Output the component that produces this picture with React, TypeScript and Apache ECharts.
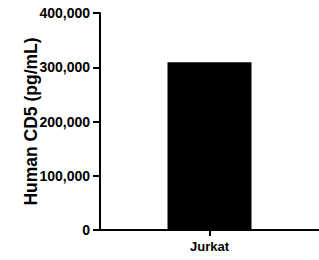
import React, { useEffect, useRef } from "react";
import * as echarts from "echarts";

const categories = ["Jurkat"];
const values = [309000];
const yTicks = [0, 100000, 200000, 300000, 400000];

export default function App() {
  const ref = useRef<HTMLDivElement>(null);
  useEffect(() => {
    if (!ref.current) return;
    const chart = echarts.init(ref.current, null, { renderer: "svg" });
    const font = "Liberation Sans, Arial, sans-serif";
    chart.setOption({
      animation: false,
      backgroundColor: "#ffffff",
      grid: { left: 100, right: 0, top: 13, bottom: 30 },
      xAxis: {
        type: "category",
        data: categories,
        axisLine: { show: true, lineStyle: { color: "#000", width: 2 } },
        axisTick: { show: true, alignWithLabel: true, length: 6, lineStyle: { color: "#000", width: 2 } },
        axisLabel: { color: "#000", fontWeight: "bold", fontSize: 13, fontFamily: font, margin: 10 },
      },
      yAxis: {
        type: "value",
        min: yTicks[0],
        max: yTicks[yTicks.length - 1],
        interval: 100000,
        name: "Human CD5 (pg/mL)",
        nameLocation: "middle",
        nameGap: 60,
        nameMoveOverlap: false,
        nameTextStyle: { color: "#000", fontWeight: "bold", fontSize: 17.5, fontFamily: font },
        axisLine: { show: true, lineStyle: { color: "#000", width: 2 } },
        axisTick: { show: true, length: 7, lineStyle: { color: "#000", width: 2 } },
        splitLine: { show: false },
        axisLabel: {
          color: "#000",
          fontWeight: "bold",
          fontSize: 14,
          fontFamily: font,
          margin: 10,
          formatter: (v: number) => v.toLocaleString("en-US"),
        },
      },
      series: [
        {
          type: "bar",
          data: values,
          barWidth: 84,
          itemStyle: { color: "#000" },
        },
      ],
    });
    return () => chart.dispose();
  }, []);
  return <div ref={ref} style={{ position: "fixed", left: 0, top: 0, width: 319, height: 260 }} />;
}
